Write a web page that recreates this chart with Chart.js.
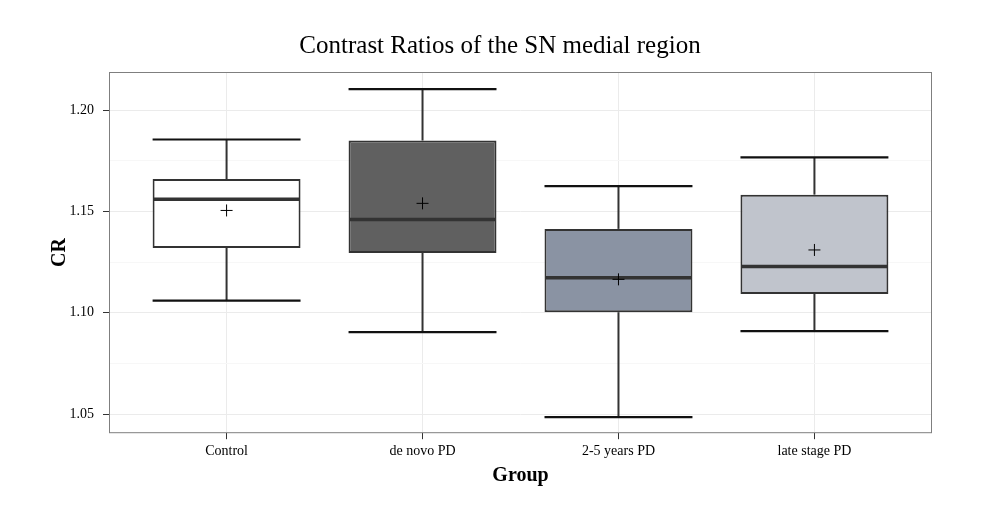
<!DOCTYPE html>
<html>
<head>
<meta charset="utf-8">
<script src="https://cdn.jsdelivr.net/npm/chart.js@4/dist/chart.umd.min.js"></script>
<style>
  body { margin: 0; background: #fff; }
  #wrap { width: 985px; height: 509px; }
</style>
</head>
<body>
<div id="wrap"><canvas id="c"></canvas></div>
<script>
// values
const groups = ['Control', 'de novo PD', '2-5 years PD', 'late stage PD'];
const whiskerLow = [1.106, 1.0905, 1.0485, 1.091];
const q1 = [1.132, 1.1295, 1.1003, 1.1093];
const median = [1.156, 1.146, 1.1173, 1.1228];
const q3 = [1.166, 1.185, 1.1414, 1.1583];
const whiskerHigh = [1.1855, 1.2104, 1.1625, 1.1767];
const means = [1.1505, 1.154, 1.1165, 1.131];
const fills = ['#ffffff', '#606060', '#8a93a3', '#c0c4cc'];
const majorTicks = [1.05, 1.10, 1.15, 1.20];
const minorTicks = [1.075, 1.125, 1.175];

const serif = "'Liberation Serif', 'DejaVu Serif', serif";
const isMajor = v => majorTicks.some(m => Math.abs(m - v) < 1e-9);

// whiskers, caps and median lines, drawn right after the boxes
const boxExtras = {
    id: 'boxExtras',
    afterDatasetDraw(chart, args) {
        if (args.index !== 1) return;
        const y = chart.scales.y;
        const ctx = chart.ctx;
        function seg(x1, y1, x2, y2, w, c) {
            ctx.beginPath();
            ctx.lineWidth = w;
            ctx.strokeStyle = c;
            ctx.moveTo(x1, y1);
            ctx.lineTo(x2, y2);
            ctx.stroke();
        }
        ctx.save();
        args.meta.data.forEach((bar, i) => {
            const x = bar.x, half = bar.width / 2;
            const yHi = y.getPixelForValue(whiskerHigh[i]);
            const yLo = y.getPixelForValue(whiskerLow[i]);
            seg(x, y.getPixelForValue(q3[i]), x, yHi, 2, '#333333');
            seg(x, y.getPixelForValue(q1[i]), x, yLo, 2, '#333333');
            seg(x - half, yHi, x + half, yHi, 2.2, '#111111');
            seg(x - half, yLo, x + half, yLo, 2.2, '#111111');
            const yMed = y.getPixelForValue(median[i]);
            seg(x - half + 1, yMed, x + half - 1, yMed, 3.5, '#333333');
        });
        ctx.restore();
    },
    afterDraw(chart) {
        const a = chart.chartArea, ctx = chart.ctx;
        ctx.save();
        ctx.strokeStyle = '#7f7f7f';
        ctx.lineWidth = 1;
        ctx.strokeRect(a.left + 0.5, a.top + 0.5, a.right - a.left - 1, a.bottom - a.top - 1);
        ctx.restore();
    }
};

new Chart(document.getElementById('c'), {
    type: 'bar',
    data: {
        datasets: [{
            type: 'scatter',
            label: 'mean',
            data: groups.map((g, i) => ({ x: i + 1, y: means[i] })),
            pointStyle: 'cross',
            radius: 6,
            borderColor: '#000000',
            borderWidth: 1,
            backgroundColor: '#000000'
        }, {
            type: 'bar',
            label: 'CR',
            data: groups.map((g, i) => ({ x: i + 1, y: [q1[i], q3[i]] })),
            backgroundColor: fills,
            borderColor: '#333333',
            borderWidth: 2,
            borderSkipped: false,
            categoryPercentage: 1,
            barPercentage: 0.755
        }]
    },
    options: {
        responsive: true,
        maintainAspectRatio: false,
        animation: false,
        layout: { padding: { left: 30, right: 15, top: 21, bottom: 17 } },
        plugins: {
            legend: { display: false },
            tooltip: { enabled: false },
            title: {
                display: true,
                text: 'Contrast Ratios of the SN medial region',
                color: '#000000',
                font: { family: serif, size: 25, weight: 'normal' },
                padding: { top: 10, bottom: 11 }
            }
        },
        scales: {
            x: {
                type: 'linear',
                min: 0.4,
                max: 4.6,
                offset: false,
                afterBuildTicks: axis => {
                    axis.ticks = groups.map((g, i) => ({ value: i + 1 }));
                },
                ticks: {
                    callback: v => groups[Math.round(v) - 1] || '',
                    color: '#000000',
                    font: { family: serif, size: 14 },
                    maxRotation: 0,
                    padding: 4
                },
                grid: { offset: false, color: '#ebebeb', tickColor: '#333333', tickLength: 6 },
                border: { display: false },
                title: {
                    display: true,
                    text: 'Group',
                    color: '#000000',
                    font: { family: serif, size: 20, weight: 'bold' },
                    padding: { top: 0 }
                }
            },
            y: {
                type: 'linear',
                min: 1.0406,
                max: 1.2188,
                afterBuildTicks: axis => {
                    axis.ticks = majorTicks.concat(minorTicks).sort((a, b) => a - b).map(v => ({ value: v }));
                },
                afterFit: axis => { axis.width = 79; },
                ticks: {
                    callback: v => isMajor(v) ? v.toFixed(2) : '',
                    color: '#000000',
                    font: { family: serif, size: 14 },
                    padding: 9
                },
                grid: {
                    color: c => isMajor(c.tick.value) ? '#ebebeb' : '#f7f7f7',
                    tickColor: c => isMajor(c.tick.value) ? '#333333' : 'rgba(0,0,0,0)',
                    tickLength: 6
                },
                border: { display: false },
                title: {
                    display: true,
                    text: 'CR',
                    color: '#000000',
                    font: { family: serif, size: 20, weight: 'bold' },
                    padding: { top: 18, bottom: 2 }
                }
            },
            // empty right-hand spacer so the title centres like the reference
            spacer: {
                type: 'linear',
                position: 'right',
                afterFit: axis => { axis.width = 38; },
                ticks: { display: false },
                grid: { display: false },
                border: { display: false }
            }
        }
    },
    plugins: [boxExtras]
});
</script>
</body>
</html>
